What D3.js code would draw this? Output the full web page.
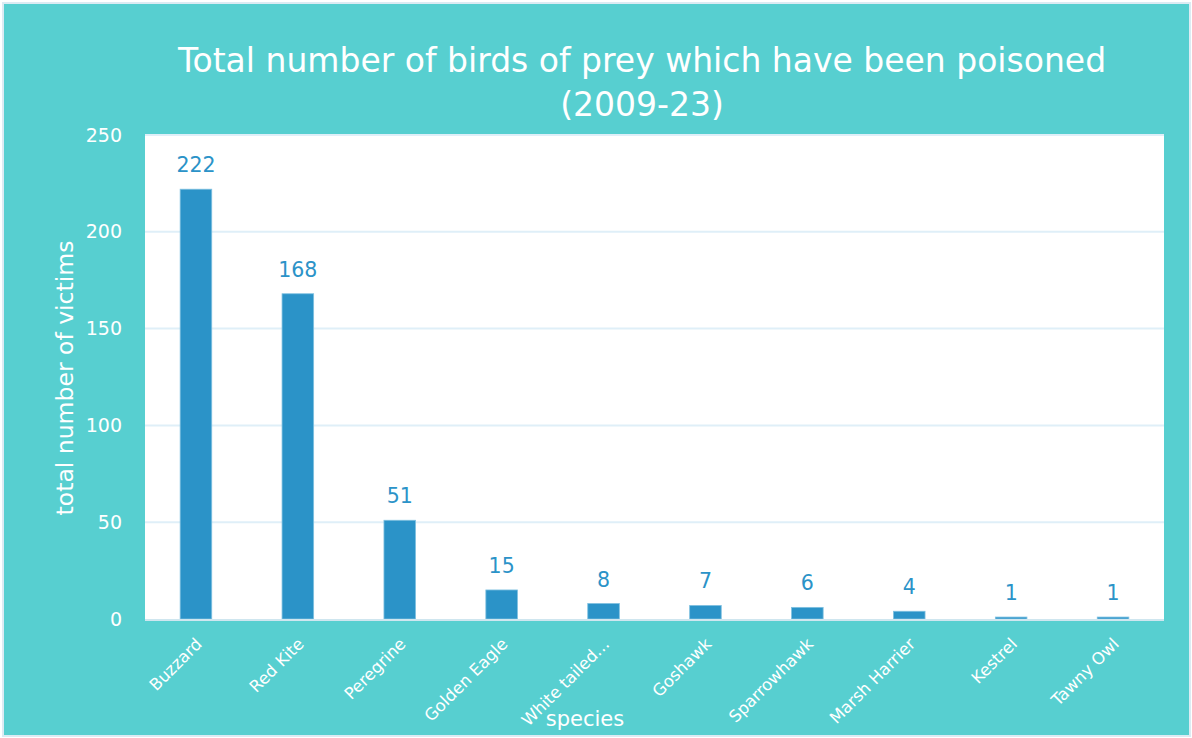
<!DOCTYPE html>
<html>
<head>
<meta charset="utf-8">
<script src="https://cdn.jsdelivr.net/npm/d3@7"></script>
<style>
  html, body { margin: 0; padding: 0; background: #ffffff; }
  svg { display: block; font-family: "DejaVu Sans", Verdana, sans-serif; }
</style>
</head>
<body>
<svg id="chart" width="1192" height="738"></svg>
<script>
// ---- data ----
const species = ["Buzzard", "Red Kite", "Peregrine", "Golden Eagle", "White tailed\u2026",
                 "Goshawk", "Sparrowhawk", "Marsh Harrier", "Kestrel", "Tawny Owl"];
const victims = [222, 168, 51, 15, 8, 7, 6, 4, 1, 1];
const yTicks = [0, 50, 100, 150, 200, 250];
const titleLines = ["Total number of birds of prey which have been poisoned", "(2009-23)"];

// ---- layout ----
const W = 1192, H = 738;
const plot = { left: 145, right: 1164, top: 135, bottom: 619 };
const teal = "#57cfd0", barBlue = "#2b93c8", gridCol = "#dfeff8";

const svg = d3.select("#chart");

// outer frame
svg.append("rect").attr("x", 0).attr("y", 0).attr("width", W).attr("height", H).attr("fill", "#ffffff");
svg.append("rect").attr("x", 3).attr("y", 3).attr("width", W - 5).attr("height", H - 5)
   .attr("fill", teal).attr("stroke", "#dcebf3").attr("stroke-width", 2);

// plot background
svg.append("rect")
   .attr("x", plot.left).attr("y", plot.top)
   .attr("width", plot.right - plot.left).attr("height", plot.bottom - plot.top)
   .attr("fill", "#ffffff");

// scales
const x = d3.scaleBand().domain(species).range([plot.left, plot.right]).paddingInner(0.69).paddingOuter(0.345);
const y = d3.scaleLinear().domain([0, 250]).range([plot.bottom, plot.top]);

// gridlines
svg.append("g").selectAll("line").data(yTicks.filter(d => d > 0)).join("line")
   .attr("x1", plot.left).attr("x2", plot.right)
   .attr("y1", d => y(d)).attr("y2", d => y(d))
   .attr("stroke", gridCol).attr("stroke-width", 2);

// y axis (labels only)
const yAxis = svg.append("g")
   .attr("transform", `translate(${plot.left},0)`)
   .call(d3.axisLeft(y).tickValues(yTicks).tickSize(0).tickPadding(23));
yAxis.select(".domain").remove();
yAxis.selectAll("text").attr("fill", "#ffffff").attr("font-size", 19)
   .attr("font-family", "DejaVu Sans, sans-serif");

// bars
svg.append("g").selectAll("rect").data(species).join("rect")
   .attr("x", d => x(d))
   .attr("y", (d, i) => y(victims[i]))
   .attr("width", x.bandwidth())
   .attr("height", (d, i) => y(0) - y(victims[i]))
   .attr("fill", barBlue)
   .attr("stroke", "#7fc0e0").attr("stroke-width", 0.8);

// x axis baseline
svg.append("line")
   .attr("x1", plot.left).attr("x2", plot.right)
   .attr("y1", y(0) + 1).attr("y2", y(0) + 1)
   .attr("stroke", "#cfe6ef").attr("stroke-width", 2);

// value labels
svg.append("g").selectAll("text").data(species).join("text")
   .attr("x", d => x(d) + x.bandwidth() / 2)
   .attr("y", (d, i) => y(victims[i]) - 17)
   .attr("text-anchor", "middle")
   .attr("fill", barBlue).attr("font-size", 20.5)
   .text((d, i) => victims[i]);

// x category labels rotated
const xAxis = svg.append("g")
   .attr("transform", `translate(0,${plot.bottom})`)
   .call(d3.axisBottom(x).tickSize(0).tickPadding(0));
xAxis.select(".domain").remove();
xAxis.selectAll("text")
   .attr("fill", "#ffffff").attr("font-size", 16.5)
   .attr("font-family", "DejaVu Sans, sans-serif")
   .attr("text-anchor", "end")
   .attr("dy", null).attr("y", 0)
   .attr("transform", "translate(7,26) rotate(-45)");

// axis titles
svg.append("text")
   .attr("x", 585).attr("y", 726)
   .attr("text-anchor", "middle").attr("fill", "#ffffff").attr("font-size", 21)
   .text("species");
svg.append("text")
   .attr("transform", "translate(73,378) rotate(-90)")
   .attr("text-anchor", "middle").attr("fill", "#ffffff").attr("font-size", 23.5)
   .text("total number of victims");

// title
svg.append("g").selectAll("text").data(titleLines).join("text")
   .attr("x", 642).attr("y", (d, i) => 72 + i * 44)
   .attr("text-anchor", "middle").attr("fill", "#ffffff").attr("font-size", 33)
   .text(d => d);
</script>
</body>
</html>
